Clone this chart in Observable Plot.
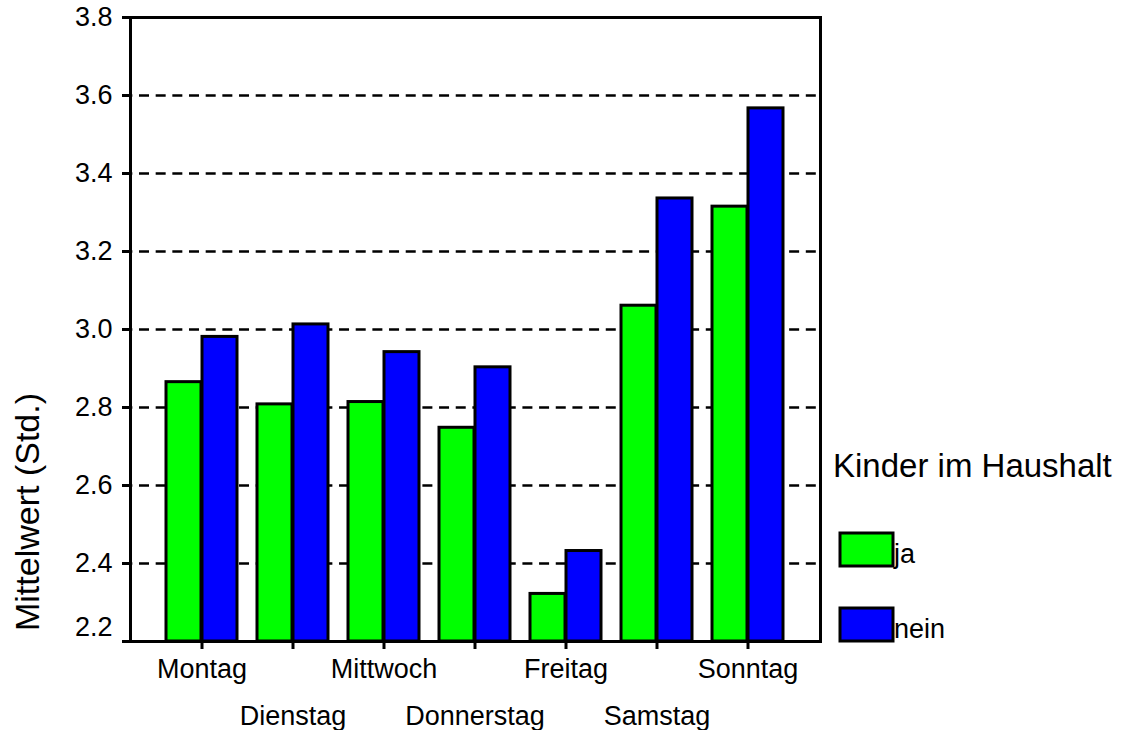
<!DOCTYPE html>
<html>
<head>
<meta charset="utf-8">
<script src="https://cdn.jsdelivr.net/npm/d3@7"></script>
<script src="https://cdn.jsdelivr.net/npm/@observablehq/plot@0.6"></script>
<style>
  html, body { margin: 0; padding: 0; background: #fff; }
  #wrap { position: relative; width: 1136px; height: 730px; font-family: "Liberation Sans", Arial, sans-serif; }
  #overlay { position: absolute; left: 0; top: 0; pointer-events: none; }
</style>
</head>
<body>
<div id="wrap"></div>
<script>
// ---- data ----
const days = ["Montag", "Dienstag", "Mittwoch", "Donnerstag", "Freitag", "Samstag", "Sonntag"];
const ja   = [2.865, 2.808, 2.814, 2.748, 2.322, 3.061, 3.315];
const nein = [2.981, 3.013, 2.942, 2.903, 2.432, 3.336, 3.567];
const groups = ["ja", "nein"];
const groupColors = ["#00ff00", "#0000ff"];
const yTicks = [2.2, 2.4, 2.6, 2.8, 3.0, 3.2, 3.4, 3.6, 3.8];
const yLabel = "Mittelwert (Std.)";
const legendTitle = "Kinder im Haushalt";

const data = days.map((d, i) => ({day: d, ja: ja[i], nein: nein[i]}));
const dayRow1 = days.filter((d, i) => i % 2 === 0);
const dayRow2 = days.filter((d, i) => i % 2 === 1);
const fmt = d3.format(".1f");
const font = "'Liberation Sans', Arial, sans-serif";

const chart = Plot.plot({
  width: 1136,
  height: 730,
  marginLeft: 130,
  marginRight: 316,
  marginTop: 17,
  marginBottom: 89,
  style: {fontFamily: font, fontSize: "27px", color: "black", background: "white"},
  x: {domain: days, paddingInner: 0.215, paddingOuter: 0.371, axis: null},
  y: {domain: [yTicks[0], yTicks[yTicks.length - 1]], axis: null},
  marks: [
    Plot.gridY(yTicks.slice(1, -1), {stroke: "black", strokeOpacity: 1, strokeWidth: 2.5, strokeDasharray: "10,6.67", strokeDashoffset: 7.67}),
    Plot.barY(data, {x: "day", y1: () => yTicks[0], y2: groups[0], fill: groupColors[0], stroke: "black", strokeWidth: 3, insetLeft: 0, insetRight: 36}),
    Plot.barY(data, {x: "day", y1: () => yTicks[0], y2: groups[1], fill: groupColors[1], stroke: "black", strokeWidth: 3, insetLeft: 36, insetRight: 0}),
    Plot.frame({stroke: "black", strokeWidth: 3}),
    Plot.axisY(yTicks, {tickSize: 8, tickPadding: 10, strokeWidth: 3, fontSize: 27, label: null,
      tickFormat: d => d === yTicks[0] ? "" : fmt(d)}),
    Plot.text([yTicks[0]], {y: d => d, frameAnchor: "left", dx: -18, dy: -14, textAnchor: "end", fontSize: 27, text: d => fmt(d)}),
    Plot.axisX(dayRow1, {tickSize: 8, tickPadding: 9, strokeWidth: 3, fontSize: 27, label: null}),
    Plot.axisX(dayRow2, {tickSize: 8, tickPadding: 56, strokeWidth: 3, fontSize: 27, label: null})
  ]
});

const wrap = document.getElementById("wrap");
wrap.appendChild(chart);

// ---- y label and legend (overlay) ----
const svg = d3.select(wrap).append("svg")
  .attr("id", "overlay")
  .attr("width", 1136).attr("height", 730)
  .style("font-family", font);

svg.append("text")
  .attr("transform", "translate(39,512) rotate(-90)")
  .attr("text-anchor", "middle")
  .attr("font-size", 34)
  .attr("fill", "black")
  .text(yLabel);

svg.append("text")
  .attr("x", 833).attr("y", 477)
  .attr("font-size", 33)
  .attr("fill", "black")
  .text(legendTitle);

const lg = svg.selectAll("g.item").data(groups).join("g")
  .attr("class", "item")
  .attr("transform", (d, i) => `translate(840,${533 + i * 75})`);
lg.append("rect")
  .attr("width", 53).attr("height", 33)
  .attr("fill", (d, i) => groupColors[i])
  .attr("stroke", "black").attr("stroke-width", 3);
lg.append("text")
  .attr("x", 54).attr("y", 30)
  .attr("font-size", 27)
  .attr("fill", "black")
  .text(d => d);
</script>
</body>
</html>
